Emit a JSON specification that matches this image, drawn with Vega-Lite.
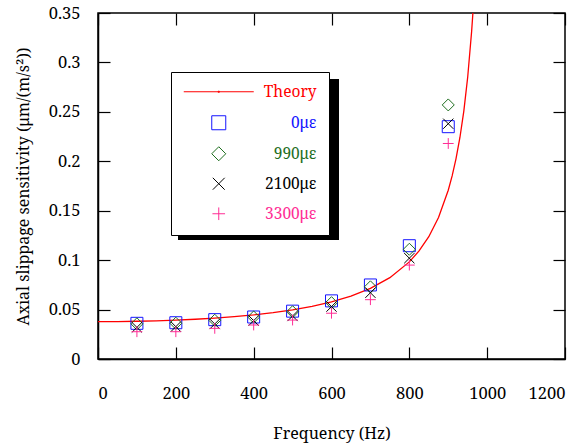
{
  "$schema": "https://vega.github.io/schema/vega-lite/v6.json",
  "width": 467,
  "height": 346,
  "autosize": {"type": "none"},
  "padding": {"left": 98, "top": 13, "right": 18, "bottom": 89},
  "background": "white",
  "config": {
    "font": "Noto Serif",
    "view": {"stroke": "black", "strokeWidth": 1.5},
    "axis": {
      "labelFont": "Noto Serif",
      "titleFont": "Noto Serif",
      "labelFontSize": 16.5,
      "titleFontSize": 16,
      "titleFontWeight": "normal",
      "labelColor": "black",
      "titleColor": "black",
      "domainColor": "black",
      "tickColor": "black",
      "grid": false,
      "tickSize": -12,
      "tickWidth": 1.2,
      "domainWidth": 1.5
    },
    "legend": {"labelFont": "Noto Serif"}
  },
  "datasets": {
    "theory": [
      {"f": 0, "s": 0.0378}, {"f": 50, "s": 0.0379}, {"f": 100, "s": 0.03817}, {"f": 150, "s": 0.03864},
      {"f": 200, "s": 0.03931}, {"f": 250, "s": 0.04022}, {"f": 300, "s": 0.04138}, {"f": 350, "s": 0.04284},
      {"f": 400, "s": 0.04467}, {"f": 450, "s": 0.04694}, {"f": 500, "s": 0.04976}, {"f": 550, "s": 0.0533},
      {"f": 600, "s": 0.0578}, {"f": 650, "s": 0.06365}, {"f": 700, "s": 0.07145}, {"f": 750, "s": 0.08229},
      {"f": 800, "s": 0.09822}, {"f": 825, "s": 0.10931}, {"f": 850, "s": 0.12371}, {"f": 875, "s": 0.14312},
      {"f": 900, "s": 0.1707}, {"f": 910, "s": 0.18524}, {"f": 920, "s": 0.20271}, {"f": 930, "s": 0.22408},
      {"f": 940, "s": 0.25081}, {"f": 950, "s": 0.2852}, {"f": 960, "s": 0.33103}, {"f": 963, "s": 0.3479},
      {"f": 970, "s": 0.3952}
    ],
    "meas": [
      {"f": 100, "s": 0.0361, "series": "0με"}, {"f": 200, "s": 0.0367, "series": "0με"}, {"f": 300, "s": 0.0398, "series": "0με"},
      {"f": 400, "s": 0.0425, "series": "0με"}, {"f": 500, "s": 0.0484, "series": "0με"}, {"f": 600, "s": 0.0588, "series": "0με"},
      {"f": 700, "s": 0.0749, "series": "0με"}, {"f": 800, "s": 0.1146, "series": "0με"}, {"f": 900, "s": 0.235, "series": "0με"},
      {"f": 100, "s": 0.0356, "series": "990με"}, {"f": 200, "s": 0.0362, "series": "990με"}, {"f": 300, "s": 0.0392, "series": "990με"},
      {"f": 400, "s": 0.0425, "series": "990με"}, {"f": 500, "s": 0.0478, "series": "990με"}, {"f": 600, "s": 0.057, "series": "990με"},
      {"f": 700, "s": 0.073, "series": "990με"}, {"f": 800, "s": 0.111, "series": "990με"}, {"f": 900, "s": 0.257, "series": "990με"},
      {"f": 100, "s": 0.032, "series": "2100με"}, {"f": 200, "s": 0.0327, "series": "2100με"}, {"f": 300, "s": 0.0354, "series": "2100με"},
      {"f": 400, "s": 0.0388, "series": "2100με"}, {"f": 500, "s": 0.0435, "series": "2100με"}, {"f": 600, "s": 0.053, "series": "2100με"},
      {"f": 700, "s": 0.067, "series": "2100με"}, {"f": 800, "s": 0.102, "series": "2100με"}, {"f": 900, "s": 0.238, "series": "2100με"},
      {"f": 100, "s": 0.0276, "series": "3300με"}, {"f": 200, "s": 0.0276, "series": "3300με"}, {"f": 300, "s": 0.031, "series": "3300με"},
      {"f": 400, "s": 0.0344, "series": "3300με"}, {"f": 500, "s": 0.0394, "series": "3300με"}, {"f": 600, "s": 0.0463, "series": "3300με"},
      {"f": 700, "s": 0.06, "series": "3300με"}, {"f": 800, "s": 0.095, "series": "3300με"}, {"f": 900, "s": 0.218, "series": "3300με"}
    ]
  },
  "layer": [
    {
      "data": {"name": "theory"},
      "mark": {"type": "line", "color": "#ff0000", "strokeWidth": 1.3, "clip": true, "fillOpacity": 0},
      "encoding": {
        "x": {"field": "f", "type": "quantitative", "scale": {"domain": [0, 1200], "nice": false},
          "axis": {"orient": "bottom", "values": [0, 200, 400, 600, 800, 1000, 1200], "format": "d", "title": "Frequency (Hz)", "labelPadding": 38, "titlePadding": 24}},
        "y": {"field": "s", "type": "quantitative", "scale": {"domain": [0, 0.35], "nice": false, "zero": false},
          "axis": {"orient": "left", "values": [0, 0.05, 0.1, 0.15, 0.2, 0.25, 0.3, 0.35], "format": "~g", "title": "Axial slippage sensitivity (μm/(m/s²))", "labelPadding": 30, "titlePadding": 17}},
        "fill": {"datum": 1, "type": "quantitative", "scale": {"domain": [0, 1], "range": ["black", "black"]},
          "legend": {"title": null, "orient": "none", "legendX": 80, "legendY": 66, "zindex": 1, "direction": "vertical",
            "type": "gradient", "gradientLength": 161, "gradientThickness": 161, "padding": 0, "labelOpacity": 0,
            "gradientStrokeColor": "black", "gradientStrokeWidth": 0}}
      }
    },
    {
      "data": {"name": "meas"},
      "mark": {"type": "point", "filled": false, "size": 144, "strokeWidth": 1, "opacity": 1},
      "encoding": {
        "x": {"field": "f", "type": "quantitative", "axis": {"orient": "top", "labels": false, "title": null, "domain": false, "values": [0, 200, 400, 600, 800, 1000, 1200]}},
        "y": {"field": "s", "type": "quantitative", "axis": {"orient": "right", "labels": false, "title": null, "domain": false, "values": [0, 0.05, 0.1, 0.15, 0.2, 0.25, 0.3, 0.35]}},
        "color": {"field": "series", "type": "nominal",
          "scale": {"domain": ["Theory", "0με", "990με", "2100με", "3300με"], "range": ["#ff0000", "#1414ff", "#1e6e1e", "#000000", "#ff2d95"]},
          "legend": {"title": null, "orient": "none", "legendX": 73, "legendY": 59, "zindex": 2,
            "fillColor": "white", "strokeColor": "black", "padding": 12,
            "symbolSize": 196, "symbolStrokeWidth": 1, "symbolOffset": 28, "rowPadding": 12,
            "labelFontSize": 15.5, "labelOffset": 90, "labelAlign": "right",
            "labelColor": {"expr": "scale('color', datum.value)"},
            "encode": {"legend": {"update": {"strokeWidth": {"value": 2}}}}}},
        "shape": {"field": "series", "type": "nominal",
          "scale": {"domain": ["Theory", "0με", "990με", "2100με", "3300με"],
            "range": ["M-5,0L5,0M-0.08,-0.08L0.08,-0.08L0.08,0.08L-0.08,0.08Z", "square", "diamond", "M-0.85,-0.85L0.85,0.85M-0.85,0.85L0.85,-0.85", "M-0.9,0L0.9,0M0,-0.9L0,0.9"]},
          "legend": {"title": null}}
      }
    }
  ],
  "resolve": {"axis": {"x": "independent", "y": "independent"}}
}
